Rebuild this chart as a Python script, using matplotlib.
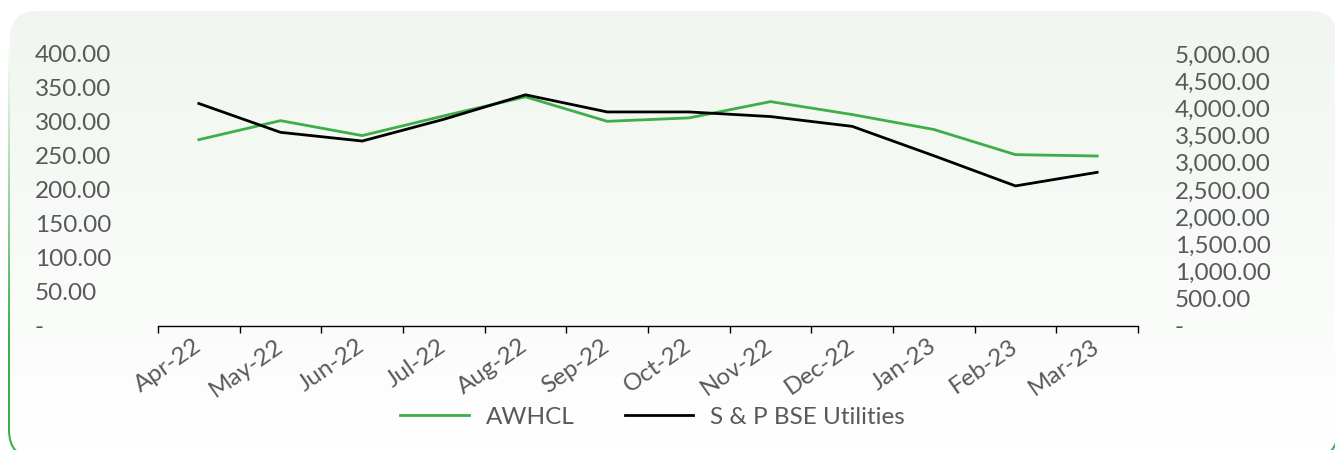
import numpy as np
import matplotlib.pyplot as plt
from matplotlib.patches import FancyBboxPatch, PathPatch
from matplotlib.path import Path
from matplotlib.ticker import FuncFormatter, FixedLocator

months = ["Apr-22", "May-22", "Jun-22", "Jul-22", "Aug-22", "Sep-22",
          "Oct-22", "Nov-22", "Dec-22", "Jan-23", "Feb-23", "Mar-23"]
awhcl = [274, 302, 280, 309, 337, 301, 306, 330, 311, 289, 252, 250]
bse_utilities = [4090, 3560, 3400, 3800, 4250, 3935, 3935, 3850, 3670, 3130, 2575, 2825]

left_ticks = [0, 50, 100, 150, 200, 250, 300, 350, 400]
right_ticks = [0, 500, 1000, 1500, 2000, 2500, 3000, 3500, 4000, 4500, 5000]

GREEN = "#3DAE49"
TEXT = "#595959"
FS = 17.5

plt.rcParams["font.family"] = ["Lato", "DejaVu Sans"]

W, H = 1335, 450
fig = plt.figure(figsize=(W / 100, H / 100), dpi=100)

# card background: rounded box with a soft green-to-white gradient
bg = fig.add_axes([0, 0, 1, 1], zorder=-10)
bg.set_xlim(0, W)
bg.set_ylim(H, 0)
bg.axis("off")


def rounded(x0, y0, w, h, r):
    p = FancyBboxPatch((x0, y0), w, h, boxstyle=f"round,pad=0,rounding_size={r}")
    return p.get_path().to_polygons()[0]


inner = rounded(10, 11, 1327, 446, 27)
outer = rounded(8, 9, 1331, 450, 29)
card = PathPatch(Path(inner), facecolor="none", edgecolor="none")
bg.add_patch(card)
grad = np.linspace(0, 1, 256).reshape(-1, 1)
top = np.array([240, 246, 239]) / 255
bot = np.array([255, 255, 255]) / 255
img = top + (bot - top) * grad[..., None]
im = bg.imshow(img, extent=(8, 1339, 459, 9), aspect="auto", interpolation="bilinear")
im.set_clip_path(card)

# border ring that fades in toward the bottom
ring_verts = np.vstack([outer, inner[::-1]])
codes = ([Path.MOVETO] + [Path.LINETO] * (len(outer) - 1)
         + [Path.MOVETO] + [Path.LINETO] * (len(inner) - 1))
ring = PathPatch(Path(ring_verts, codes), facecolor="none", edgecolor="none")
bg.add_patch(ring)
yy = np.linspace(9, 459, 450)
border = np.zeros((450, 1, 4))
border[..., :3] = plt.matplotlib.colors.to_rgb(GREEN)
border[:, 0, 3] = np.clip((yy - 40) / 300, 0, 1)
bim = bg.imshow(border, extent=(8, 1339, 459, 9), aspect="auto", interpolation="bilinear")
bim.set_clip_path(ring)

# main chart
ax = fig.add_axes([158 / W, 1 - 326 / H, (1138 - 158) / W, (326 - 54) / H])
ax.patch.set_alpha(0)
x = np.arange(len(months))
l1, = ax.plot(x, awhcl, color=GREEN, lw=2.0, label="AWHCL")
ax.set_xlim(-0.5, len(months) - 0.5)
ax.set_ylim(0, 400)
ax.set_yticks(left_ticks)
ax.yaxis.set_major_formatter(FuncFormatter(lambda v, p: "-" if v == 0 else f"{v:,.2f}"))
ax.tick_params(axis="y", length=0, pad=88.6, labelsize=FS, labelcolor=TEXT)
for lab in ax.get_yticklabels():
    lab.set_horizontalalignment("left")

ax.set_xticks(x)
ax.set_xticklabels(months)
ax.xaxis.set_minor_locator(FixedLocator(np.arange(-0.5, len(months), 1)))
ax.tick_params(axis="x", which="major", length=0, pad=13, labelsize=FS, labelcolor=TEXT)
ax.tick_params(axis="x", which="minor", length=5, width=1, color="black")
for lab in ax.get_xticklabels():
    lab.set_rotation(35)
    lab.set_rotation_mode("anchor")
    lab.set_horizontalalignment("right")
    lab.set_verticalalignment("center")

for s in ["top", "left", "right"]:
    ax.spines[s].set_visible(False)
ax.spines["bottom"].set_color("black")
ax.spines["bottom"].set_linewidth(1)

ax2 = ax.twinx()
l2, = ax2.plot(x, bse_utilities, color="black", lw=2.0, label="S & P BSE Utilities")
ax2.set_ylim(0, 5000)
ax2.set_yticks(right_ticks)
ax2.yaxis.set_major_formatter(FuncFormatter(lambda v, p: "-" if v == 0 else f"{v:,.2f}"))
ax2.tick_params(axis="y", length=0, pad=26.6, labelsize=FS, labelcolor=TEXT)
for s in ax2.spines.values():
    s.set_visible(False)

fig.legend(handles=[l1, l2], loc="center", bbox_to_anchor=(0.489, 0.073), ncol=2,
           frameon=False, fontsize=FS, labelcolor=TEXT, handlelength=2.8,
           handletextpad=0.7, columnspacing=2.1)

fig.savefig("out.png", dpi=100)
